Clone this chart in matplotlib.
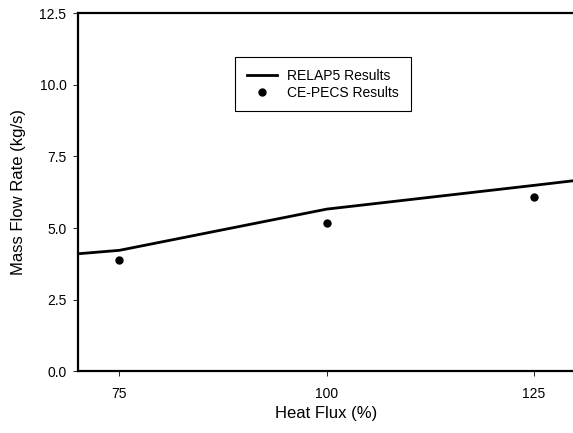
import numpy as np
import matplotlib
matplotlib.use('Agg')
import matplotlib.pyplot as plt

plt.rcParams['font.family'] = ['Liberation Sans', 'DejaVu Sans']

# RELAP5 curve and CE-PECS measurements
relap_x = [70, 75, 100, 125, 130]
relap_y = [4.10, 4.22, 5.66, 6.49, 6.66]
pecs_x = [75, 100, 125]
pecs_y = [3.88, 5.16, 6.09]

xticks = [75, 100, 125]
yticks = [0.0, 2.5, 5.0, 7.5, 10.0, 12.5]

fig = plt.figure(figsize=(5.73, 4.33), dpi=100)
ax = fig.add_axes([0.136, 0.143, 0.868, 0.826])

ax.plot(relap_x, relap_y, 'k-', lw=2.0, label='RELAP5 Results')
ax.plot(pecs_x, pecs_y, 'ko', ms=5, ls='none', label='CE-PECS Results')

ax.set_xlim(70, 130)
ax.set_ylim(0, 12.5)
ax.set_xticks(xticks)
ax.set_yticks(yticks)
ax.set_yticklabels([f'{v:.1f}' for v in yticks])
ax.tick_params(direction='out', length=3.3, width=0.6, labelsize=10)
ax.tick_params(axis='y', pad=5)
ax.tick_params(axis='x', pad=8)
for s in ax.spines.values():
    s.set_linewidth(1.6)

ax.set_xlabel('Heat Flux (%)', fontsize=12, labelpad=4)
ax.set_ylabel('Mass Flow Rate (kg/s)', fontsize=12, labelpad=10)

leg = ax.legend(loc='upper left', bbox_to_anchor=(0.316, 0.878), borderaxespad=0,
                fontsize=10, fancybox=False, framealpha=1, edgecolor='black',
                handlelength=2.2, handletextpad=0.7, borderpad=0.85, labelspacing=0.2)
leg.get_frame().set_linewidth(0.8)

fig.savefig('out.png', dpi=100)
